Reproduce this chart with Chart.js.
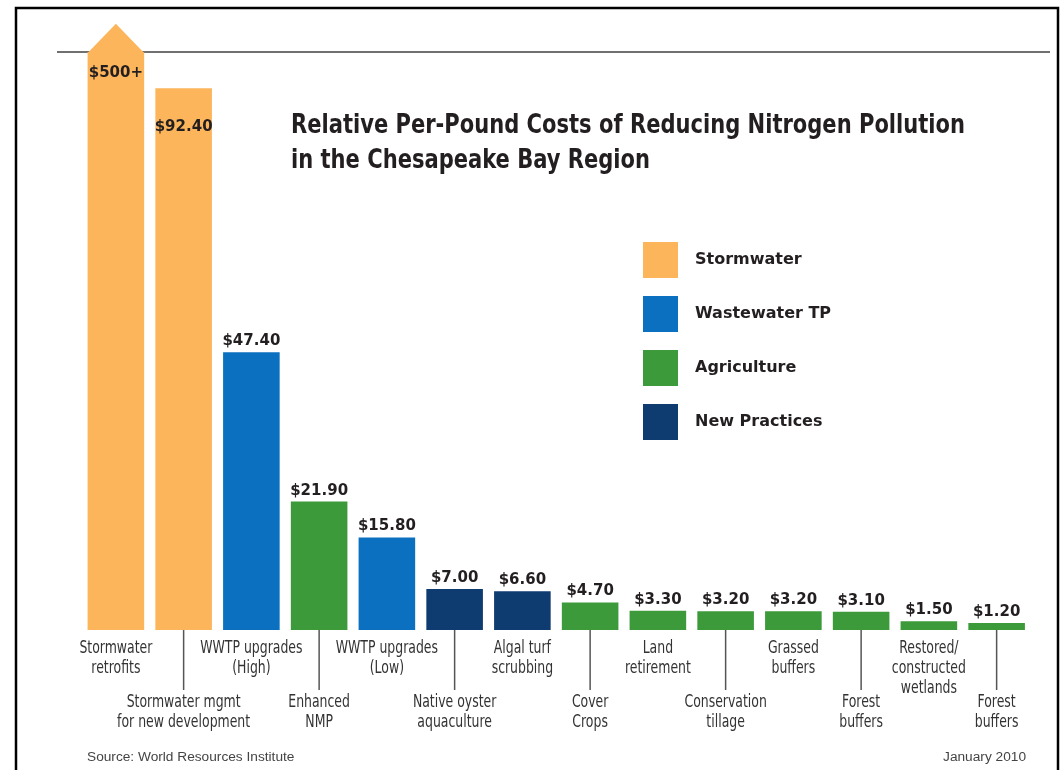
<!DOCTYPE html>
<html>
<head>
<meta charset="utf-8">
<script src="https://cdn.jsdelivr.net/npm/chart.js@4.4.0/dist/chart.umd.min.js"></script>
<style>
  html, body { margin: 0; padding: 0; background: #fff; }
  #wrap { position: relative; width: 1064px; height: 770px; }
</style>
</head>
<body>
<div id="wrap"><canvas id="costs"></canvas></div>
<script>
/*
  Relative per-pound costs of reducing nitrogen pollution, Chesapeake Bay.
*/

const titleLines = [
  'Relative Per-Pound Costs of Reducing Nitrogen Pollution',
  'in the Chesapeake Bay Region'
]

const categories = [
  ['Stormwater', 'retrofits'],
  ['Stormwater mgmt', 'for new development'],
  ['WWTP upgrades', '(High)'],
  ['Enhanced', 'NMP'],
  ['WWTP upgrades', '(Low)'],
  ['Native oyster', 'aquaculture'],
  ['Algal turf', 'scrubbing'],
  ['Cover', 'Crops'],
  ['Land', 'retirement'],
  ['Conservation', 'tillage'],
  ['Grassed', 'buffers'],
  ['Forest', 'buffers'],
  ['Restored/', 'constructed', 'wetlands'],
  ['Forest', 'buffers']
]

// $ per pound of nitrogen; the first one is off the chart ($500+)
const costs = [500, 92.4, 47.4, 21.9, 15.8, 7.0, 6.6, 4.7, 3.3, 3.2, 3.2, 3.1, 1.5, 1.2]
const costLabels = ['$500+', '$92.40', '$47.40', '$21.90', '$15.80', '$7.00', '$6.60',
  '$4.70', '$3.30', '$3.20', '$3.20', '$3.10', '$1.50', '$1.20']

const sectorNames = ['Stormwater', 'Wastewater TP', 'Agriculture', 'New Practices']
const sectorColors = ['#fdb55c', '#0c70c0', '#3c9a3a', '#0e3b70']
const sectors = ['Stormwater', 'Stormwater', 'Wastewater TP', 'Agriculture', 'Wastewater TP',
  'New Practices', 'New Practices', 'Agriculture', 'Agriculture', 'Agriculture',
  'Agriculture', 'Agriculture', 'Agriculture', 'Agriculture']

const sourceText = 'Source: World Resources Institute'
const dateText = 'January 2010'

// no narrow face installed, so the condensed one is squeezed a bit more
const narrow = '"Liberation Sans Narrow", "DejaVu Sans Condensed", "Arial Narrow", sans-serif'
const wide = '"DejaVu Sans", Verdana, sans-serif'

const barColors = sectors.map(s => sectorColors[sectorNames.indexOf(s)])


function squeezedText (ctx, text, x, y, sx) {
  ctx.save()
  ctx.translate(x, y)
  ctx.scale(sx, 1)
  ctx.fillText(text, 0, 0)
  ctx.restore()
}


const decor = {
  id: 'decor',
  beforeDatasetsDraw (chart) {
    const { ctx, chartArea } = chart
    ctx.save()
    // page frame
    ctx.strokeStyle = '#000'
    ctx.lineWidth = 2.5
    ctx.beginPath()
    ctx.moveTo(16, 780)
    ctx.lineTo(16, 8)
    ctx.lineTo(1058, 8)
    ctx.lineTo(1058, 780)
    ctx.stroke()
    // top rule where the scale is cut
    ctx.strokeStyle = '#707070'
    ctx.lineWidth = 2
    ctx.beginPath()
    ctx.moveTo(57, chartArea.top)
    ctx.lineTo(1050, chartArea.top)
    ctx.stroke()
    ctx.restore()
  },
  afterDatasetsDraw (chart) {
    const { ctx, chartArea } = chart
    const bars = chart.getDatasetMeta(0).data
    ctx.save()

    // arrow on the bar that runs off the scale
    const b0 = bars[0]
    ctx.fillStyle = barColors[0]
    ctx.beginPath()
    ctx.moveTo(b0.x - b0.width / 2, chartArea.top + 1)
    ctx.lineTo(b0.x, chartArea.top - b0.width / 2)
    ctx.lineTo(b0.x + b0.width / 2, chartArea.top + 1)
    ctx.closePath()
    ctx.fill()

    // value labels
    ctx.fillStyle = '#231f20'
    ctx.font = 'bold 15px ' + wide
    ctx.textAlign = 'center'
    ctx.textBaseline = 'middle'
    bars.forEach((bar, i) => {
      const top = Math.max(bar.y, chartArea.top)
      let y = top - 11
      if (i === 0) y = top + 21
      if (i === 1) y = top + 39
      ctx.fillText(costLabels[i], bar.x, y)
    })

    // category labels, every other one dropped lower with a leader line
    ctx.font = '17px ' + narrow
    ctx.fillStyle = '#333'
    ctx.strokeStyle = '#555'
    ctx.lineWidth = 1.5
    bars.forEach((bar, i) => {
      const lines = categories[i]
      const low = i % 2 === 1
      const y0 = low ? 703 : 649
      if (low) {
        ctx.beginPath()
        ctx.moveTo(bar.x, chartArea.bottom)
        ctx.lineTo(bar.x, 690)
        ctx.stroke()
      }
      lines.forEach((t, k) => squeezedText(ctx, t, bar.x, y0 + k * 20, 0.815))
    })

    // legend
    ctx.textAlign = 'left'
    ctx.font = 'bold 16px ' + wide
    sectorNames.forEach((name, k) => {
      const y = 242 + k * 54
      ctx.fillStyle = sectorColors[k]
      ctx.fillRect(643, y, 35, 36)
      ctx.fillStyle = '#231f20'
      ctx.fillText(name, 695, y + 18)
    })

    // title
    ctx.textBaseline = 'alphabetic'
    ctx.font = 'bold 26px ' + narrow
    titleLines.forEach((t, k) => squeezedText(ctx, t, 291, 133 + k * 35, 0.9))

    // footer
    ctx.font = '13.7px "Liberation Sans", Arial, sans-serif'
    ctx.fillStyle = '#444'
    ctx.textBaseline = 'middle'
    ctx.fillText(sourceText, 87, 757)
    ctx.textAlign = 'right'
    ctx.fillText(dateText, 1026, 757)

    ctx.restore()
  }
}


new Chart(document.getElementById('costs'), {
  type: 'bar',
  data: {
    labels: categories,
    datasets: [{
      label: 'Cost per pound',
      data: costs,
      backgroundColor: barColors,
      borderWidth: 0,
      barPercentage: 0.835,
      categoryPercentage: 1.0,
      clip: 0
    }]
  },
  options: {
    responsive: true,
    maintainAspectRatio: false,
    animation: false,
    layout: {
      padding: { left: 82, right: 33.5, top: 52, bottom: 140 }
    },
    scales: {
      x: { display: false },
      y: { display: false, min: 0, max: 98.6 }
    },
    plugins: {
      legend: { display: false },
      title: { display: false },
      tooltip: { enabled: false }
    }
  },
  plugins: [decor]
})
</script>
</body>
</html>
